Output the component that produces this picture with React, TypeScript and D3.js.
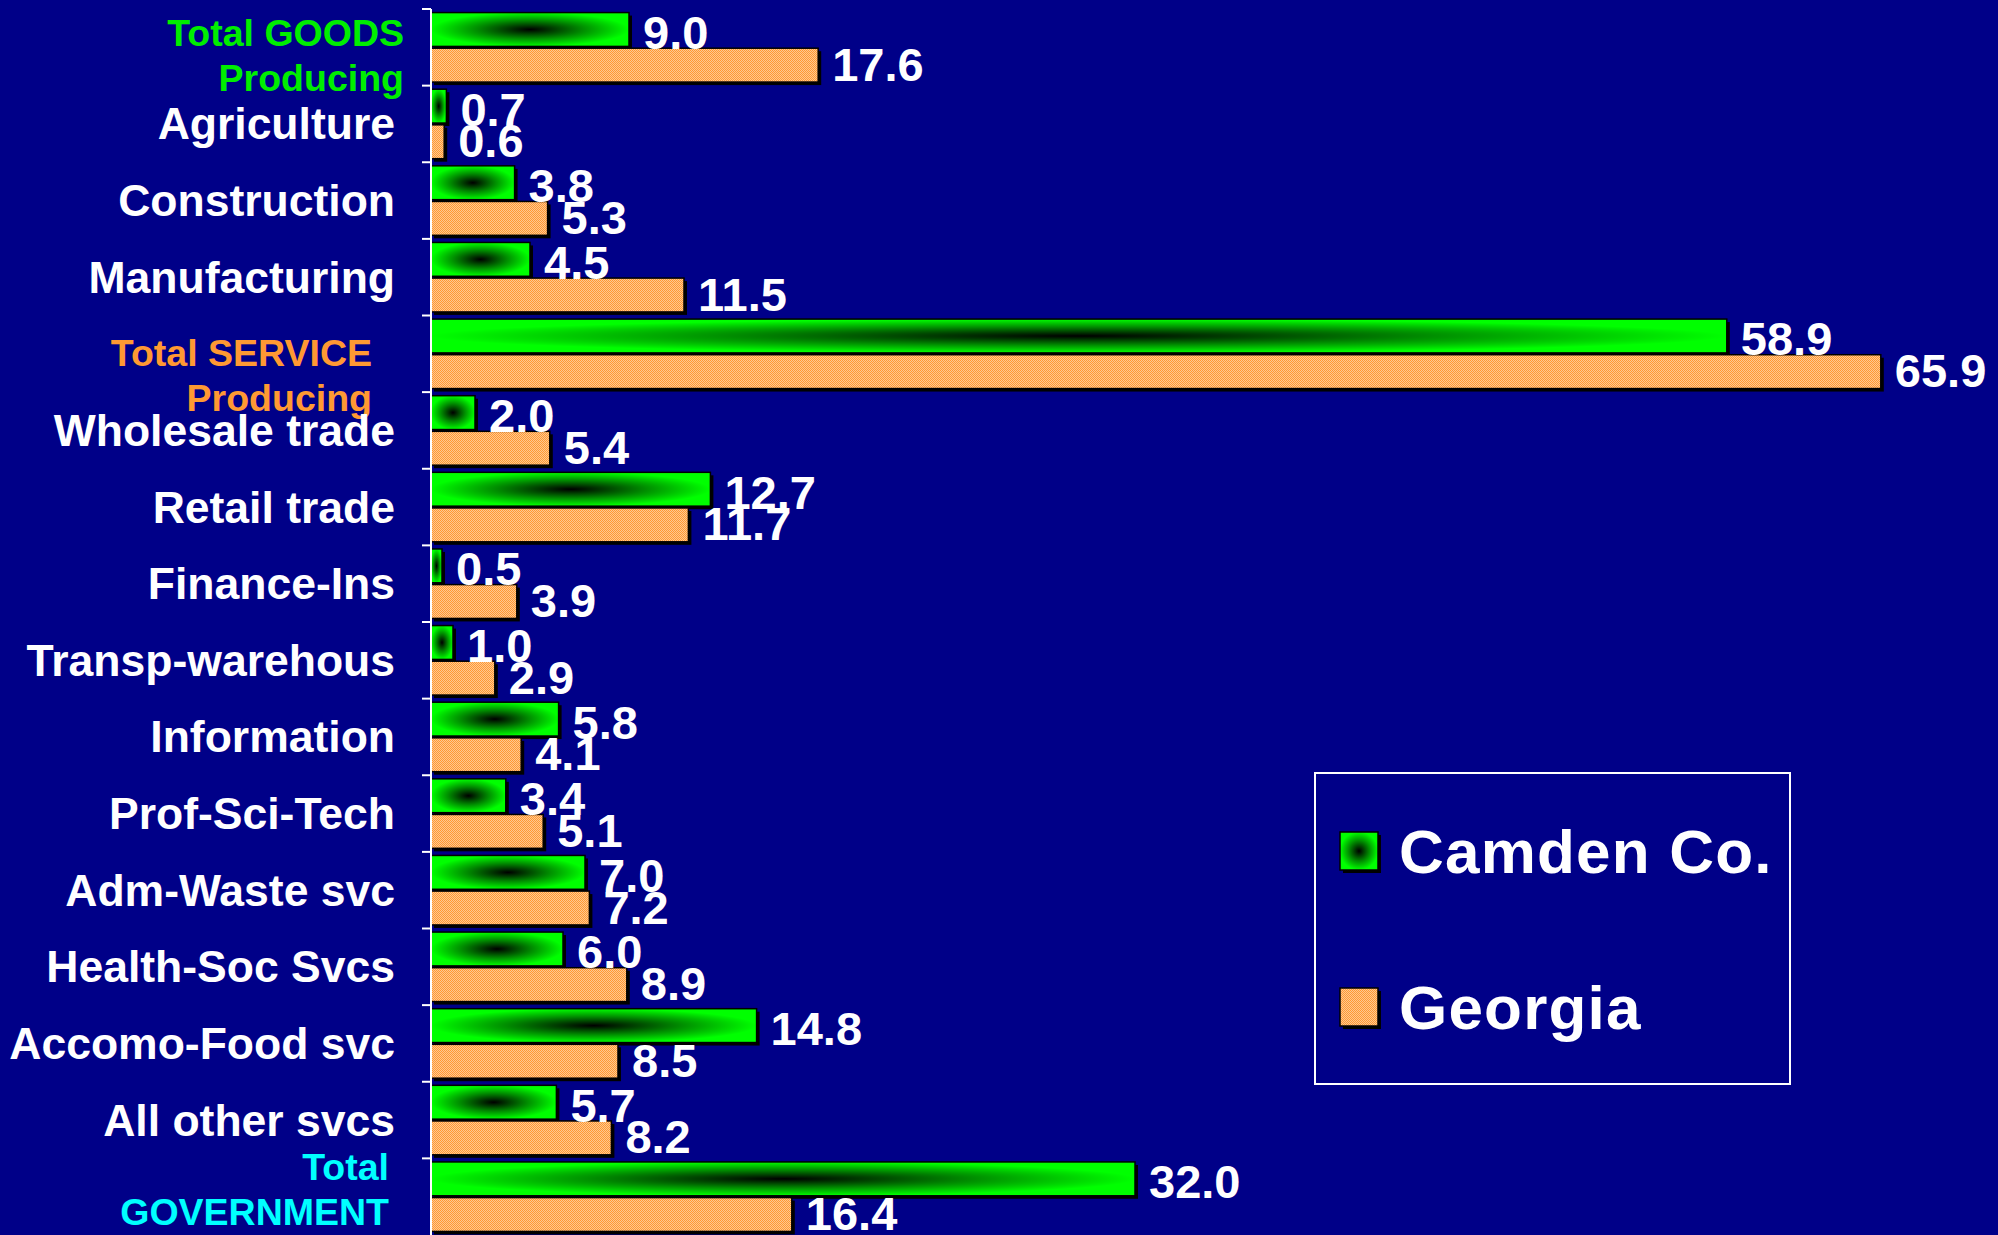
import React, { useEffect, useRef } from 'react';
import * as d3 from 'd3';

const categories = [
  'Total GOODS Producing',
  'Agriculture',
  'Construction',
  'Manufacturing',
  'Total SERVICE Producing',
  'Wholesale trade',
  'Retail trade',
  'Finance-Ins',
  'Transp-warehous',
  'Information',
  'Prof-Sci-Tech',
  'Adm-Waste svc',
  'Health-Soc Svcs',
  'Accomo-Food svc',
  'All other svcs',
  'Total GOVERNMENT',
];
const camden = [9.0, 0.7, 3.8, 4.5, 58.9, 2.0, 12.7, 0.5, 1.0, 5.8, 3.4, 7.0, 6.0, 14.8, 5.7, 32.0];
const georgia = [17.6, 0.6, 5.3, 11.5, 65.9, 5.4, 11.7, 3.9, 2.9, 4.1, 5.1, 7.2, 8.9, 8.5, 8.2, 16.4];
const seriesNames = ['Camden Co.', 'Georgia'];

// multi-line headings for the totals
const labelLines: Record<string, string[]> = {
  'Total GOODS Producing': ['Total GOODS', 'Producing'],
  'Total SERVICE Producing': ['Total SERVICE', 'Producing'],
  'Total GOVERNMENT': ['Total', 'GOVERNMENT'],
};

const WIDTH = 1998;
const HEIGHT = 1235;
const BG = '#000088';
const GREEN = '#00ff00';
const FONT = '"Liberation Sans", Arial, sans-serif';

// heading style: colour, right edge, centre of first line (from band top)
const headingStyle: Record<string, { color: string; right: number; first: number }> = {
  'Total GOODS Producing': { color: '#00ee00', right: 404, first: 24 },
  'Total SERVICE Producing': { color: '#ff9933', right: 372, first: 37 },
  'Total GOVERNMENT': { color: '#00ffff', right: 389, first: 9 },
};

type Row = { cat: string; series: string; value: number };

const App: React.FC = () => {
  const ref = useRef<SVGSVGElement>(null);

  useEffect(() => {
    if (!ref.current) return;
    const svg = d3.select(ref.current);
    svg.selectAll('*').remove();

    const axisX = 431;
    const x = d3.scaleLinear().domain([0, 70]).range([axisX, axisX + 70 * 22.0]);
    const y = d3.scaleBand<string>().domain(categories).range([9, HEIGHT]).paddingInner(0);
    const sub = d3
      .scaleBand<string>()
      .domain(seriesNames)
      .range([0, y.bandwidth()])
      .paddingInner(0.05)
      .paddingOuter(0.1);

    svg.append('rect').attr('width', WIDTH).attr('height', HEIGHT).attr('fill', BG);

    const defs = svg.append('defs');
    const grad = defs.append('radialGradient').attr('id', 'greenGrad');
    grad.append('stop').attr('offset', '0').attr('stop-color', '#000000');
    grad.append('stop').attr('offset', '0.55').attr('stop-color', '#009000');
    grad.append('stop').attr('offset', '1').attr('stop-color', GREEN);

    const pat = defs
      .append('pattern')
      .attr('id', 'orangePat')
      .attr('patternUnits', 'userSpaceOnUse')
      .attr('width', 2)
      .attr('height', 2);
    pat.append('rect').attr('width', 2).attr('height', 2).attr('fill', '#ffc890');
    pat.append('rect').attr('width', 1).attr('height', 1).attr('fill', '#ff9933');
    pat.append('rect').attr('x', 1).attr('y', 1).attr('width', 1).attr('height', 1).attr('fill', '#ff9933');

    const fills: Record<string, string> = {
      'Camden Co.': 'url(#greenGrad)',
      Georgia: 'url(#orangePat)',
    };

    const rows: Row[] = [];
    categories.forEach((c, i) => {
      rows.push({ cat: c, series: seriesNames[0], value: camden[i] });
      rows.push({ cat: c, series: seriesNames[1], value: georgia[i] });
    });

    const bars = svg.append('g');
    const barY = (d: Row) => (y(d.cat) as number) + (sub(d.series) as number);
    const bh = sub.bandwidth();

    // shadows
    bars
      .selectAll('rect.shadow')
      .data(rows)
      .enter()
      .append('rect')
      .attr('class', 'shadow')
      .attr('x', axisX + 3)
      .attr('y', d => barY(d) + 3)
      .attr('width', d => x(d.value) - axisX)
      .attr('height', bh)
      .attr('fill', '#000');

    bars
      .selectAll('rect.bar')
      .data(rows)
      .enter()
      .append('rect')
      .attr('class', 'bar')
      .attr('x', axisX)
      .attr('y', d => barY(d))
      .attr('width', d => x(d.value) - axisX)
      .attr('height', bh)
      .attr('fill', d => fills[d.series])
      .attr('stroke', '#000')
      .attr('stroke-width', 1.5);

    // value labels
    svg
      .append('g')
      .selectAll('text')
      .data(rows)
      .enter()
      .append('text')
      .attr('x', d => x(d.value) + 14)
      .attr('y', d => barY(d) + bh / 2 + (d.series === seriesNames[0] ? 3 : -1))
      .attr('dominant-baseline', 'central')
      .attr('font-family', FONT)
      .attr('font-weight', 'bold')
      .attr('font-size', 47)
      .attr('fill', '#fff')
      .text(d => d.value.toFixed(1));

    // axis line and ticks
    const axis = svg.append('g');
    axis
      .append('line')
      .attr('x1', axisX)
      .attr('x2', axisX)
      .attr('y1', y.range()[0])
      .attr('y2', HEIGHT)
      .attr('stroke', '#fff')
      .attr('stroke-width', 2);
    const bounds = categories.map(c => y(c) as number);
    axis
      .selectAll('line.tick')
      .data(bounds)
      .enter()
      .append('line')
      .attr('class', 'tick')
      .attr('x1', axisX - 9)
      .attr('x2', axisX)
      .attr('y1', d => d)
      .attr('y2', d => d)
      .attr('stroke', '#fff')
      .attr('stroke-width', 2);

    // category labels
    const labels = svg.append('g').attr('font-family', FONT).attr('font-weight', 'bold');
    categories.forEach(c => {
      const top = y(c) as number;
      const hs = headingStyle[c];
      if (hs) {
        labelLines[c].forEach((line, j) => {
          labels
            .append('text')
            .attr('x', hs.right)
            .attr('y', top + hs.first + j * 45)
            .attr('text-anchor', 'end')
            .attr('dominant-baseline', 'central')
            .attr('font-size', 37.5)
            .attr('fill', hs.color)
            .text(line);
        });
      } else {
        labels
          .append('text')
          .attr('x', 395)
          .attr('y', top + y.bandwidth() / 2)
          .attr('text-anchor', 'end')
          .attr('dominant-baseline', 'central')
          .attr('font-size', 44.5)
          .attr('fill', '#fff')
          .text(c);
      }
    });

    // legend
    const lg = svg.append('g').attr('transform', 'translate(1315,773)');
    lg.append('rect')
      .attr('width', 475)
      .attr('height', 311)
      .attr('fill', 'none')
      .attr('stroke', '#fff')
      .attr('stroke-width', 2);
    seriesNames.forEach((s, i) => {
      const cy = 78 + i * 156;
      lg.append('rect')
        .attr('x', 28)
        .attr('y', cy - 16)
        .attr('width', 38)
        .attr('height', 38)
        .attr('fill', '#000');
      lg.append('rect')
        .attr('x', 25)
        .attr('y', cy - 19)
        .attr('width', 38)
        .attr('height', 38)
        .attr('fill', fills[s])
        .attr('stroke', '#000')
        .attr('stroke-width', 1.5);
      lg.append('text')
        .attr('x', 84)
        .attr('y', cy)
        .attr('dominant-baseline', 'central')
        .attr('font-family', FONT)
        .attr('font-weight', 'bold')
        .attr('font-size', 62)
        .attr('letter-spacing', 1.2)
        .attr('fill', '#fff')
        .text(s);
    });
  }, []);

  return (
    <svg
      ref={ref}
      width={WIDTH}
      height={HEIGHT}
      style={{ position: 'absolute', left: 0, top: 0, display: 'block' }}
    />
  );
};

export default App;
